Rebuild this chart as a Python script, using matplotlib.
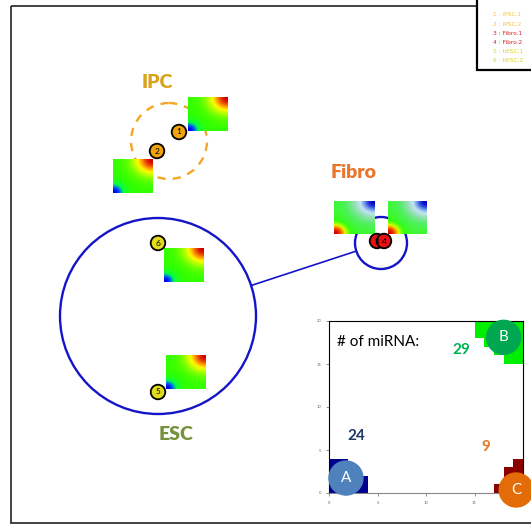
import matplotlib
matplotlib.use("Agg")
import matplotlib.pyplot as plt
import numpy as np
from matplotlib.patches import Circle, Rectangle, Ellipse
from matplotlib.colors import LinearSegmentedColormap

plt.rcParams['font.family'] = ['Lato', 'DejaVu Sans']

# network nodes (layout in pixel units)
node_ids = ['1', '2', '3', '4', '5', '6']
node_x = [179, 157, 377, 384, 158, 158]
node_y = [132, 151, 241, 241, 392, 243]
node_colors = ['#F0A30A', '#F0A30A', '#E81010', '#E81010', '#E2DC1C', '#E2DC1C']

# clusters: name, centre, radius, colour, style, label position
cluster_names = ['IPC', 'Fibro', 'ESC']
cluster_cx = [169, 381, 158]
cluster_cy = [141, 243, 316]
cluster_r = [38, 26, 98]
cluster_edge = ['#F5A623', '#1414C8', '#1414C8']
cluster_ls = [(0, (3.5, 3)), '-', '-']
label_x = [157, 354, 176]
label_y = [82, 172, 434]
label_colors = ['#D9A21B', '#E8762D', '#76923C']

# heatmap thumbnails: left, top, width, height, kind
tile_left = [188, 113, 334, 388, 164, 166]
tile_top = [97, 159, 201, 201, 248, 355]
tile_w = [40, 40, 41, 39, 40, 40]
tile_h = [34, 34, 33, 33, 34, 34]
tile_kind = ['ips', 'ips', 'fib', 'fib', 'ips', 'ips']

legend_labels = ['1 : iPSC.1', '2 : iPSC.2', '3 : Fibro.1', '4 : Fibro.2',
                 '5 : hESC.1', '6 : hESC.2']
legend_colors = ['#F2C24E', '#F2C24E', '#D92020', '#D92020', '#D8D428', '#D8D428']

# inset: staircase blocks of the miRNA grid
blue_cols = [0, 1, 2, 3]
blue_heights = [4, 4, 2, 2]
green_cols = [15, 16, 17, 18, 19]
green_depth = [2, 3, 4, 5, 5]
red_cols = [17, 18, 19]
red_heights = [1, 3, 4]
mirna_counts = {'A': 24, 'B': 29, 'C': 9}

cmap_ips = LinearSegmentedColormap.from_list('ips', [
    (0.0, '#0000f0'), (0.12, '#0050ff'), (0.28, '#00ff50'), (0.45, '#30ff00'),
    (0.6, '#a8ff00'), (0.72, '#ffff00'), (0.85, '#ff8c00'), (1.0, '#d00000')])
cmap_fib = LinearSegmentedColormap.from_list('fib', [
    (0.0, '#d00000'), (0.12, '#ff7000'), (0.22, '#e0ff00'), (0.35, '#30ff10'),
    (0.5, '#50f060'), (0.65, '#90e0b0'), (0.8, '#c8e4f4'), (0.9, '#6090e8'),
    (1.0, '#0000c8')])


def thumb(kind, n=24, m=20):
    u = np.linspace(0, 1, n)
    v = np.linspace(1, 0, m)
    U, V = np.meshgrid(u, v)
    d_lo = np.hypot(U, V)
    d_hi = np.hypot(1 - U, 1 - V)
    if kind == 'ips':
        z = 0.45 - 0.45 * np.exp(-(d_lo / 0.25) ** 2) + 0.55 * np.exp(-(d_hi / 0.45) ** 2)
        return z, cmap_ips
    z = 0.4 - 0.4 * np.exp(-(d_lo / 0.3) ** 2) + 0.6 * np.exp(-(d_hi / 0.55) ** 2)
    return z, cmap_fib


fig = plt.figure(figsize=(5.31, 5.25), dpi=100)
ax = fig.add_axes([0, 0, 1, 1])
ax.set_xlim(0, 531)
ax.set_ylim(525, 0)
ax.axis('off')

# outer frame (runs off the right edge)
ax.add_patch(Rectangle((11, 6), 530, 517, fill=False, edgecolor='#222222', lw=1.2))

# clusters
for i in range(3):
    ax.add_patch(Circle((cluster_cx[i], cluster_cy[i]), cluster_r[i], fill=False,
                        edgecolor=cluster_edge[i], lw=1.7, linestyle=cluster_ls[i]))
    ax.text(label_x[i], label_y[i], cluster_names[i], color=label_colors[i],
            fontsize=14, fontweight='heavy', ha='center', va='center')

# edge between ESC and Fibro clusters
a, b = 2, 1
dx, dy = cluster_cx[b] - cluster_cx[a], cluster_cy[b] - cluster_cy[a]
d = np.hypot(dx, dy)
ax.plot([cluster_cx[a] + cluster_r[a] * dx / d, cluster_cx[b] - cluster_r[b] * dx / d],
        [cluster_cy[a] + cluster_r[a] * dy / d, cluster_cy[b] - cluster_r[b] * dy / d],
        color='#1414C8', lw=1.2)

# thumbnails
for i in range(len(tile_left)):
    z, cm = thumb(tile_kind[i])
    ax.imshow(z, cmap=cm, vmin=0, vmax=1, interpolation='bilinear',
              extent=(tile_left[i], tile_left[i] + tile_w[i],
                      tile_top[i] + tile_h[i], tile_top[i]), zorder=3)

# nodes
ax.scatter(node_x, node_y, s=110, c=node_colors, edgecolors='black', linewidths=1.3, zorder=4)
for i, n in enumerate(node_ids):
    ax.text(node_x[i], node_y[i], n, fontsize=6, ha='center', va='center', zorder=5)

# legend box
ax.add_patch(Rectangle((477, -5), 60, 75, facecolor='white', edgecolor='black', lw=1.6, zorder=6))
for i, t in enumerate(legend_labels):
    ax.text(493, 15 + i * 9.2, t, fontsize=4.2, color=legend_colors[i],
            va='center', ha='left', family='DejaVu Sans', zorder=7)

ax.set_xlim(0, 531)
ax.set_ylim(525, 0)

# inset with miRNA blocks
ins = fig.add_axes([329 / 531, 32 / 525, 194 / 531, 172 / 525])
ins.set_xlim(0, 20)
ins.set_ylim(0, 20)
ins.bar(blue_cols, blue_heights, width=1, align='edge', color='#000090')
ins.bar(green_cols, green_depth, width=1, align='edge', bottom=[20 - g for g in green_depth],
        color='#00EE00')
ins.bar(red_cols, red_heights, width=1, align='edge', color='#8B0000')
ins.set_xticks([0, 5, 10, 15])
ins.set_yticks([0, 5, 10, 15, 20])
ins.tick_params(labelsize=3, length=2, width=0.5, colors='#666666')
for s in ['top', 'left', 'right']:
    ins.spines[s].set_color('black')
ins.spines['bottom'].set_color('#888888')

ins.text(0.04, 0.88, '# of miRNA:', transform=ins.transAxes, fontsize=11, va='center')
ins.text(0.68, 0.83, str(mirna_counts['B']), transform=ins.transAxes, fontsize=11,
         color='#00B050', fontweight='bold', va='center', ha='center')
ins.text(0.14, 0.33, str(mirna_counts['A']), transform=ins.transAxes, fontsize=11,
         color='#1F3864', fontweight='bold', va='center', ha='center')
ins.text(0.81, 0.27, str(mirna_counts['C']), transform=ins.transAxes, fontsize=11,
         color='#E87722', fontweight='bold', va='center', ha='center')

badge_x = [1.75, 18.0, 19.3]
badge_y = [1.74, 18.1, 0.35]
badge_c = ['#4F81BD', '#00A650', '#E36C09']
for i, lab in enumerate(['A', 'B', 'C']):
    ins.add_patch(Ellipse((badge_x[i], badge_y[i]), 34 / 9.7, 34 / 8.6, color=badge_c[i],
                          clip_on=False, zorder=5))
    ins.text(badge_x[i], badge_y[i], lab, color='white', fontsize=11, ha='center',
             va='center', zorder=6, clip_on=False)

fig.savefig('out.png', dpi=100)
